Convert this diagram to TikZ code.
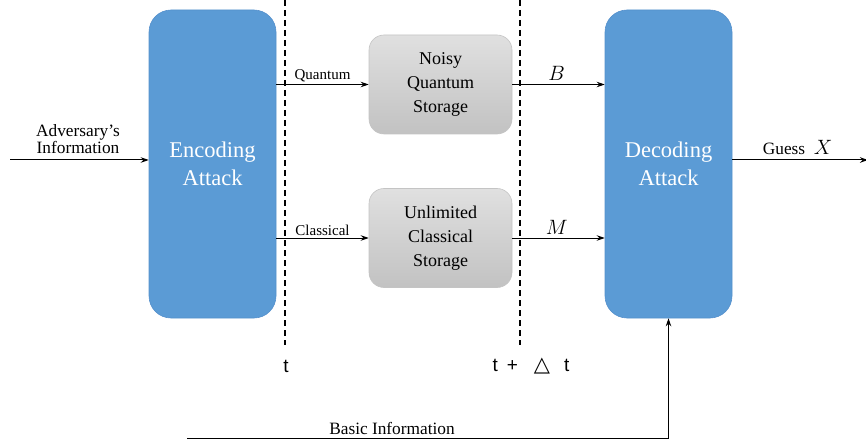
\documentclass[tikz,border=0pt]{standalone}
\usepackage{fontspec}
\setmainfont{Liberation Serif}
\newfontfamily\tsans{Liberation Sans}
\newfontfamily\dejavu{DejaVu Sans}
\usetikzlibrary{arrows.meta}
\definecolor{boxblue}{HTML}{5B9BD5}
\definecolor{boxblueedge}{HTML}{5590CC}
\definecolor{graytop}{HTML}{E0E0E0}
\definecolor{graybot}{HTML}{C2C2C2}
\definecolor{grayedge}{HTML}{C4C4C4}
\tikzset{
  attackbox/.style={draw=boxblueedge, line width=0.6pt, fill=boxblue, rounded corners=22pt,
    minimum width=127pt, minimum height=308pt, text=white, align=center,
    font=\rmfamily\fontsize{22.5}{28}\selectfont, inner sep=0pt},
  storebox/.style={draw=grayedge, line width=0.6pt, top color=graytop, bottom color=graybot,
    rounded corners=15pt, minimum width=143pt, minimum height=99pt, align=center,
    font=\rmfamily\fontsize{18}{24}\selectfont, inner sep=0pt},
  arr/.style={line width=1pt, -{Stealth[length=8pt,width=5.5pt]}},
  timeline/.style={line width=1.1pt, dash pattern=on 6pt off 4pt},
  lbl/.style={font=\rmfamily\fontsize{17.3}{20}\selectfont, inner sep=1pt},
  smalllbl/.style={font=\rmfamily\fontsize{15}{17}\selectfont, inner sep=1pt},
  mathlbl/.style={font=\fontsize{21}{24}\selectfont, inner sep=1pt},
  timelbl/.style={font=\tsans\fontsize{19}{22}\selectfont, inner sep=0pt}
}
\begin{document}
\begin{tikzpicture}[x=1pt,y=-1pt]
\useasboundingbox (0,0) rectangle (866,446);
% boxes
\node[attackbox] (enc) at (212.5,164) {Encoding\\Attack};
\node[attackbox] (dec) at (668.5,164) {Decoding\\Attack};
\node[storebox] (qs) at (440.5,84.5) {Noisy\\Quantum\\Storage};
\node[storebox] (cs) at (440.5,238) {Unlimited\\Classical\\Storage};
% time lines
\coordinate (t1top) at (285,0);
\coordinate (t1bot) at (285,345);
\coordinate (t2top) at (520,0);
\coordinate (t2bot) at (520,345);
\draw[timeline] (t1top) -- (t1bot);
\draw[timeline] (t2top) -- (t2bot);
\node[timelbl] (tlab) at (286,366) {t};
\node[timelbl] (tdlab) at (531,366) {t\hspace{9pt}+\hspace{16pt}{\dejavu\fontsize{21}{22}\selectfont △}\hspace{14pt}t};
% input
\coordinate (in) at (10,160);
\draw[arr] (in) -- (enc.west |- in);
\node[lbl, align=center] (advlab) at (78,139) {Adversary’s\\[-3pt]Information};
% quantum / classical
\draw[arr] (enc.east |- qs.west) -- node[smalllbl, above, pos=0.5, yshift=1pt] (qlab) {Quantum} (qs.west);
\draw[arr] (enc.east |- cs.west) -- node[smalllbl, above, pos=0.5, yshift=1pt] (clab) {Classical} (cs.west);
% B / M
\draw[arr] (qs.east) -- node[mathlbl, above, pos=0.48, yshift=2pt] (blab) {$B$} (dec.west |- qs.east);
\draw[arr] (cs.east) -- node[mathlbl, above, pos=0.48, yshift=2pt] (mlab) {$M$} (dec.west |- cs.east);
% output
\coordinate (out) at (868,160);
\draw[arr] (dec.east |- out) -- (out);
\node[lbl] (glab) at (784,149) {Guess};
\node[mathlbl] (xlab) at (823,147) {$X$};
% basic information
\coordinate (bstart) at (187,438);
\draw[arr] (bstart) -| (dec.south);
\node[lbl] (blabel) at (392,428) {Basic Information};
\end{tikzpicture}
\end{document}
